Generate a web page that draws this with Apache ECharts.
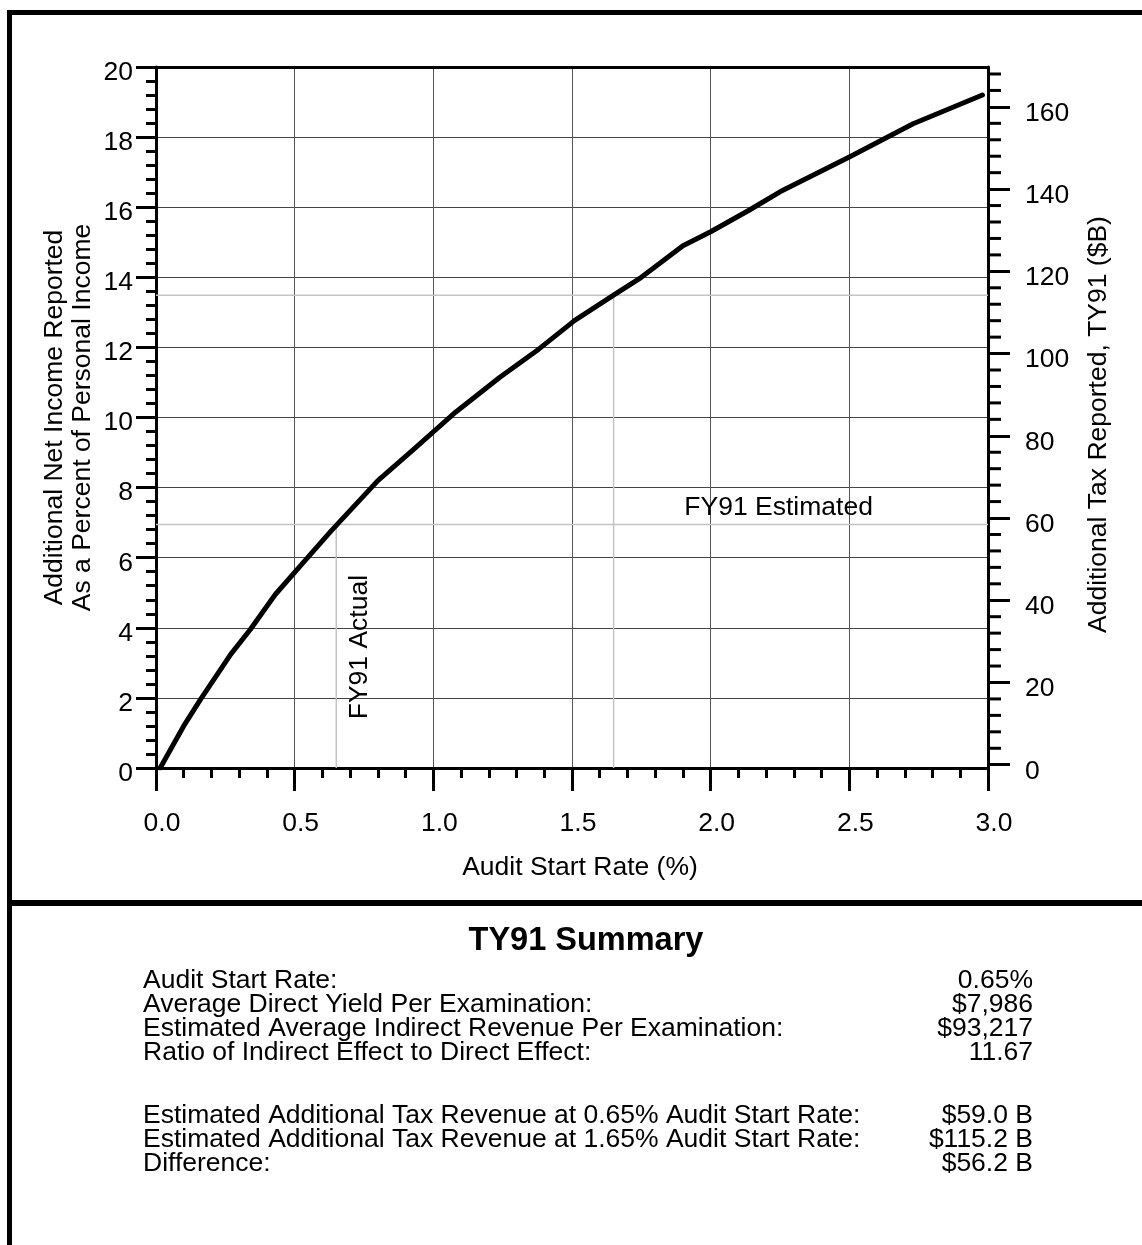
<!DOCTYPE html>
<html>
<head>
<meta charset="utf-8">
<script src="https://cdn.jsdelivr.net/npm/echarts@6/dist/echarts.min.js"></script>
<style>
html,body{margin:0;padding:0;background:#fff;}
#chart{width:1142px;height:1245px;}
</style>
</head>
<body>
<div id="chart"></div>
<script>
// ---- data ----
const auditRate = [0.015, 0.1, 0.16, 0.27, 0.34, 0.43, 0.53, 0.63, 0.8, 0.93, 1.08, 1.24, 1.38, 1.51, 1.65, 1.75, 1.9, 2.0, 2.14, 2.25, 2.5, 2.73, 2.98];
const netIncomePct = [0, 1.2, 1.95, 3.25, 3.95, 4.95, 5.85, 6.75, 8.2, 9.1, 10.15, 11.15, 11.95, 12.77, 13.49, 14.0, 14.9, 15.3, 15.92, 16.44, 17.43, 18.38, 19.2];
const refRates = [0.65, 1.65];          // FY91 actual / estimated audit start rates
const refPct = [6.95, 13.49];           // curve value at those rates (left axis)
const xTicks = [0, 0.5, 1.0, 1.5, 2.0, 2.5, 3.0];
const rightTickLabels = [0, 20, 40, 60, 80, 100, 120, 140, 160];
const rightMinorTicks = [4, 8, 12, 16, 24, 28, 32, 36, 44, 48, 52, 56, 64, 68, 72, 76, 84, 88, 92, 96, 104, 108, 112, 116, 124, 128, 132, 136, 144, 148, 152, 156, 164, 168];
const annotations = ['FY91 Actual', 'FY91 Estimated'];
const summaryTitle = 'TY91 Summary';
const summaryLabels = ['Audit Start Rate:', 'Average Direct Yield Per Examination:', 'Estimated Average Indirect Revenue Per Examination:', 'Ratio of Indirect Effect to Direct Effect:', 'Estimated Additional Tax Revenue at 0.65% Audit Start Rate:', 'Estimated Additional Tax Revenue at 1.65% Audit Start Rate:', 'Difference:'];
const summaryValues = ['0.65%', '$7,986', '$93,217', '11.67', '$59.0 B', '$115.2 B', '$56.2 B'];

// ---- chart ----
const FONT = '"Liberation Sans", Arial, Helvetica, sans-serif';
const FS = 26.5;
const chart = echarts.init(document.getElementById('chart'), null, {renderer: 'canvas'});

const curve = auditRate.map((x, i) => [x, netIncomePct[i]]);
const refSeries = [];
refRates.forEach((r, i) => {
  refSeries.push({type: 'line', data: [[r, 0], [r, refPct[i]]], symbol: 'none', silent: true,
    lineStyle: {color: '#c4c4c4', width: 1.5}, z: 1});
  refSeries.push({type: 'line', data: [[0, refPct[i]], [3, refPct[i]]], symbol: 'none', silent: true,
    lineStyle: {color: '#c4c4c4', width: 1.5}, z: 1});
});

const summaryEls = [];
const ys = [981, 1005, 1029, 1053, 1116, 1140, 1164];
summaryLabels.forEach((t, i) => {
  summaryEls.push({type: 'text', x: 143, y: ys[i], style: {text: t, fontSize: FS, fontFamily: FONT, fill: '#000', verticalAlign: 'middle'}});
  summaryEls.push({type: 'text', x: 1033, y: ys[i], style: {text: summaryValues[i], fontSize: FS, fontFamily: FONT, fill: '#000', align: 'right', verticalAlign: 'middle'}});
});

const blackLine = {color: '#000', width: 3};

const option = {
  backgroundColor: '#fff',
  animation: false,
  textStyle: {fontFamily: FONT, color: '#000'},
  grid: {left: 156, right: 154, top: 67, bottom: 477, containLabel: false},
  xAxis: [{
    type: 'value', min: 0, max: 3, interval: 0.5, position: 'bottom',
    name: 'Audit Start Rate (%)', nameLocation: 'middle', nameGap: 86,
    nameTextStyle: {fontSize: FS, color: '#000', fontFamily: FONT, padding: [0, 0, 0, 16]},
    axisLine: {show: true, onZero: false, lineStyle: blackLine},
    axisTick: {show: true, inside: false, length: 23, lineStyle: blackLine},
    minorTick: {show: true, splitNumber: 5, length: 10, lineStyle: blackLine},
    axisLabel: {fontSize: FS, color: '#000', margin: 42, fontFamily: FONT, padding: [0, 0, 0, 12],
      formatter: v => xTicks.indexOf(v) >= 0 ? v.toFixed(1) : ''},
    splitLine: {show: true, lineStyle: {color: '#555', width: 1}}
  }, {
    type: 'value', min: 0, max: 3, position: 'top',
    axisLine: {show: true, onZero: false, lineStyle: blackLine},
    axisTick: {show: false}, axisLabel: {show: false}, splitLine: {show: false}
  }],
  yAxis: [{
    type: 'value', min: 0, max: 20, interval: 2, position: 'left',
    name: 'Additional Net Income Reported\nAs a Percent of Personal Income',
    nameLocation: 'middle', nameGap: 59, nameRotate: 90, nameMoveOverlap: false,
    nameTextStyle: {fontSize: FS, lineHeight: 28, color: '#000', fontFamily: FONT},
    axisLine: {show: true, onZero: false, lineStyle: blackLine},
    axisTick: {show: true, inside: false, length: 20, lineStyle: blackLine},
    minorTick: {show: true, splitNumber: 5, length: 10, lineStyle: blackLine},
    axisLabel: {fontSize: FS, color: '#000', margin: 23, fontFamily: FONT, verticalAlign: 'top', lineHeight: 11},
    splitLine: {show: true, lineStyle: {color: '#444', width: 1}}
  }, {
    type: 'value', min: -0.8, max: 169.7, position: 'right',
    name: 'Additional Tax Reported, TY91 ($B)', nameLocation: 'middle', nameGap: 97, nameRotate: 90,
    nameTextStyle: {fontSize: FS, color: '#000', fontFamily: FONT, padding: [0, 14, 0, 0]},
    axisLine: {show: true, onZero: false, lineStyle: blackLine},
    axisTick: {show: true, inside: false, length: 22, customValues: rightTickLabels, lineStyle: blackLine},
    axisLabel: {fontSize: FS, color: '#000', margin: 37, fontFamily: FONT, customValues: rightTickLabels, verticalAlign: 'top', lineHeight: 13},
    splitLine: {show: false}
  }],
  series: refSeries.concat([{
    type: 'custom', xAxisIndex: 0, yAxisIndex: 1, silent: true, clip: false, z: 6,
    data: rightMinorTicks.map(v => [3, v]),
    renderItem: (params, api) => {
      const p = api.coord([api.value(0), api.value(1)]);
      return {type: 'line', shape: {x1: p[0] + 1, y1: p[1], x2: p[0] + 13, y2: p[1]},
        style: {stroke: '#000', lineWidth: 3}};
    }
  }, {
    type: 'line', data: curve, symbol: 'none', smooth: false, z: 5,
    lineStyle: {color: '#000', width: 5, cap: 'round', join: 'round'},
    markPoint: {
      symbol: 'circle', symbolSize: 0, silent: true,
      data: [
        {coord: [0.734, 3.45], label: {show: true, formatter: annotations[0], rotate: 90, fontSize: FS, color: '#000', fontFamily: FONT, position: 'inside'}},
        {coord: [2.245, 7.44], label: {show: true, formatter: annotations[1], fontSize: FS, color: '#000', fontFamily: FONT, position: 'inside'}}
      ]
    }
  }]),
  graphic: [
    {type: 'rect', left: 7, top: 10, shape: {width: 1135, height: 5}, style: {fill: '#000'}},
    {type: 'rect', left: 7, top: 10, shape: {width: 5, height: 1235}, style: {fill: '#000'}},
    {type: 'rect', left: 7, top: 900, shape: {width: 1135, height: 6}, style: {fill: '#000'}},
    {type: 'text', x: 586, y: 941, style: {text: summaryTitle, fontSize: 32.5, fontWeight: 'bold', fontFamily: FONT, fill: '#000', align: 'center', verticalAlign: 'middle'}}
  ].concat(summaryEls)
};
chart.setOption(option);
</script>
</body>
</html>
